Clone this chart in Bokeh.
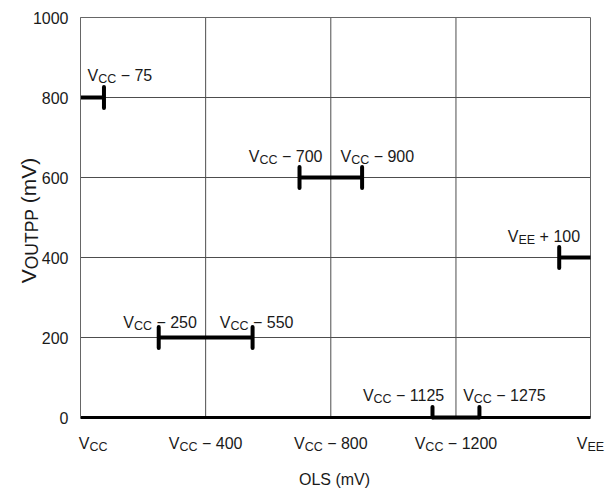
from math import pi
from bokeh.plotting import figure
from bokeh.models import Range1d, FixedTicker, ColumnDataSource
from bokeh.core.properties import value
from bokeh.embed import file_html
from bokeh.resources import INLINE

# ---------------- data ----------------
VEE_POS = 1630  # position of the VEE end of the OLS axis (mV below VCC)
Y_MAX = 1000
y_ticks = [0, 200, 400, 600, 800, 1000]
x_tick_vals = [0, 400, 800, 1200, VEE_POS]
x_tick_base = ["V", "V", "V", "V", "V"]
x_tick_sub = ["CC", "CC", "CC", "CC", "EE"]
x_tick_rest = ["", "− 400", "− 800", "− 1200", ""]

seg_start = [0, 700, 250, 1125, VEE_POS - 100]
seg_end = [75, 900, 550, 1275, VEE_POS]
seg_level = [800, 600, 200, 0, 400]

tick_x = [75, 700, 900, 250, 550, 1125, 1275, VEE_POS - 100]
tick_y = [800, 600, 600, 200, 200, 0, 0, 400]

ann_x = [75, 700, 900, VEE_POS - 100, 250, 550, 1125, 1275]
ann_y = [800, 600, 600, 400, 200, 200, 0, 0]
ann_base = ["V"] * 8
ann_sub = ["CC", "CC", "CC", "EE", "CC", "CC", "CC", "CC"]
ann_rest = ["− 75", "− 700", "− 900", "+ 100", "− 250", "− 550", "− 1125", "− 1275"]

x_title = "OLS (mV)"
y_title = [("V", "main"), ("OUTPP", "sub"), ("(mV)", "main")]

# ---------------- layout / style ----------------
CW, CH = 608, 489
FL, FR, FT, FB = 80, 590, 17, 417          # frame edges in pixels
SX = (FR - FL) / VEE_POS                    # px per x unit
SY = (FB - FT) / Y_MAX                      # px per y unit

ann_dx = [-16.5, -50.7, -21.6, -51.4, -35.5, -32.8, -69.6, -16.3]
ann_dy = [22, 21, 21, 21, 15.5, 15.5, 22, 22]

FONT = "Liberation Sans"
TXT = "#1a1a1a"
GRID = "#4d4d4d"
EDGE = "#666666"
W = {"V": .667, "C": .722, "E": .667, "O": .778, "U": .722, "T": .611, "P": .667,
     " ": .278, "−": .584, "+": .584, "(": .333, ")": .333, "m": .833, "L": .556, "S": .667}


def tw(s, size):
    return sum(W.get(ch, 0.556) for ch in s) * size


p = figure(width=CW, height=CH, output_backend="svg", toolbar_location=None,
           x_range=Range1d(-FL / SX, VEE_POS + (CW - FR) / SX),
           y_range=Range1d(-(CH - FB) / SY, Y_MAX + FT / SY),
           min_border_left=0, min_border_right=0, min_border_top=0, min_border_bottom=0)
p.background_fill_color = "white"
p.border_fill_color = "white"
p.outline_line_color = None
p.xgrid.visible = False
p.ygrid.visible = False

# y axis on the frame's left edge
p.yaxis.fixed_location = 0
p.yaxis.bounds = (0, Y_MAX)
p.yaxis.ticker = FixedTicker(ticks=y_ticks)
p.yaxis.major_tick_out = 0
p.yaxis.major_tick_in = 0
p.yaxis.minor_tick_out = 0
p.yaxis.minor_tick_in = 0
p.yaxis.major_label_standoff = 12
p.yaxis.major_label_text_font = FONT
p.yaxis.major_label_text_font_size = "16px"
p.yaxis.major_label_text_color = TXT
p.yaxis.axis_line_color = EDGE

# x axis: thick baseline (labels with subscripts drawn as text below)
p.xaxis.fixed_location = 0
p.xaxis.bounds = (0, VEE_POS)
p.xaxis.ticker = FixedTicker(ticks=x_tick_vals)
p.xaxis.major_label_overrides = {v: "" for v in x_tick_vals}
p.xaxis.major_tick_out = 0
p.xaxis.major_tick_in = 0
p.xaxis.minor_tick_out = 0
p.xaxis.minor_tick_in = 0
p.xaxis.axis_line_width = 3
p.xaxis.axis_line_color = "black"

# grid lines and frame box
gx = x_tick_vals[1:-1]
gy = y_ticks[1:-1]
p.segment(x0=gx, y0=[0] * len(gx), x1=gx, y1=[Y_MAX] * len(gx), line_color=GRID, line_width=1)
p.segment(x0=[0] * len(gy), y0=gy, x1=[VEE_POS] * len(gy), y1=gy, line_color=GRID, line_width=1)
p.quad(left=[0], right=[VEE_POS], bottom=[0], top=[Y_MAX], fill_alpha=0,
       line_color=EDGE, line_width=1)

# ranges (segments) and end ticks
p.segment(x0=seg_start, y0=seg_level, x1=seg_end, y1=seg_level,
          line_color="black", line_width=4)
half = 10.5 / SY
p.segment(x0=tick_x, y0=[max(v - half, 0) for v in tick_y], x1=tick_x,
          y1=[v + half for v in tick_y], line_color="black", line_width=4, line_cap="round")

# ---------------- texts ----------------
tx, ty, tt, tfs, tang = [], [], [], [], []


def put(x, y, text, fs, ang=0.0):
    tx.append(x)
    ty.append(y)
    tt.append(text)
    tfs.append(f"{fs}px")
    tang.append(ang)


def composite(x, y, base, sub, rest, dx, dy, align="left", size=16, sub_size=12.5, drop=3.5):
    space = W[" "] * size
    total = tw(base, size) + tw(sub, sub_size) + (space + tw(rest, size) if rest else 0)
    start = dx - total / 2 if align == "center" else dx
    pieces = [(base, size, 0, start),
              (sub, sub_size, -drop, start + tw(base, size)),
              (rest, size, 0, start + tw(base, size) + tw(sub, sub_size) + space)]
    for text, fs, yoff, xo in pieces:
        if text:
            put(x + xo / SX, y + (dy + yoff) / SY, text, fs)


for i in range(len(ann_x)):
    composite(ann_x[i], ann_y[i], ann_base[i], ann_sub[i], ann_rest[i], ann_dx[i], ann_dy[i])

for i, v in enumerate(x_tick_vals):
    if i == 0:
        composite(v, 0, x_tick_base[i], x_tick_sub[i], x_tick_rest[i], -1.7, -25.5)
    else:
        composite(v, 0, x_tick_base[i], x_tick_sub[i], x_tick_rest[i], 0, -25.5, align="center")

# x title (centered)
put(VEE_POS / 2 + (-1 - tw(x_title, 16) / 2) / SX, -62 / SY, x_title, 16)

# y title (rotated, with subscript)
sizes = {"main": 21, "sub": 17.5}
y_total = sum(tw(t, sizes[k]) for t, k in y_title) + tw(" ", sizes["main"]) * (len(y_title) - 2)
along = -3 - y_total / 2
for t, k in y_title:
    if t.startswith("("):
        along += tw(" ", sizes["main"])
    drop = 3.5 if k == "sub" else 0
    put((-52 + drop) / SX, Y_MAX / 2 + along / SY, t, sizes[k], pi / 2)
    along += tw(t, sizes[k])

src = ColumnDataSource(dict(x=tx, y=ty, text=tt, fs=tfs, ang=tang))
p.text(x="x", y="y", text="text", angle="ang", source=src, text_font=value(FONT),
       text_font_size="fs", text_color=TXT, text_align="left", text_baseline="alphabetic")

open("out.html", "w").write(file_html(p, INLINE))
